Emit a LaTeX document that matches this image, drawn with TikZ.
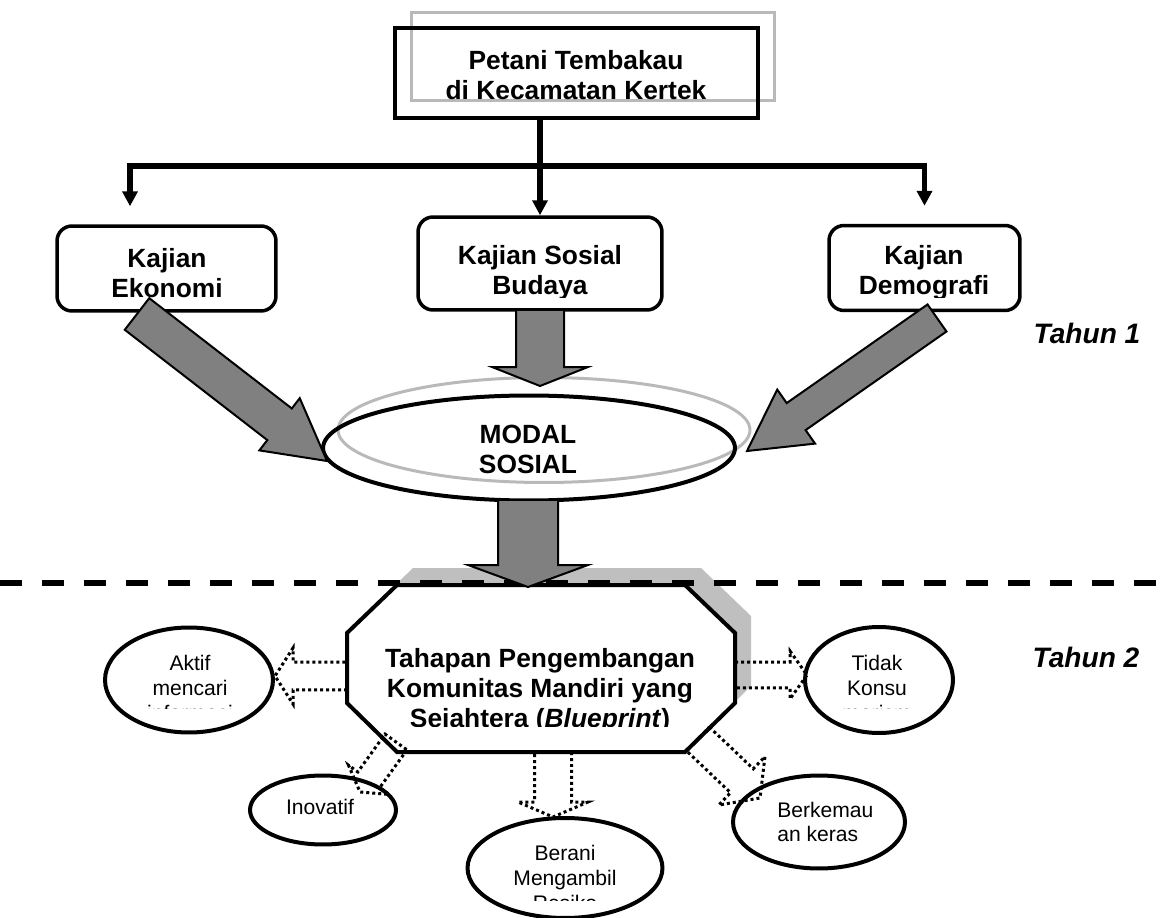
\documentclass[tikz,border=0pt]{standalone}
\usepackage{fontspec}
\setmainfont{Liberation Sans}
\usetikzlibrary{arrows.meta,calc,shapes.geometric}

\newcommand{\blockarrow}[6]{%
  \path (#2) coordinate (ba-s) (#3) coordinate (ba-t);
  \path ($(ba-t)!#6!(ba-s)$) coordinate (ba-b);
  \draw[#1] ($(ba-s)!#4!90:(ba-t)$) -- ($(ba-b)!#4!-90:(ba-s)$)
    -- ($(ba-b)!#5!-90:(ba-s)$) -- (ba-t) -- ($(ba-b)!#5!90:(ba-s)$)
    -- ($(ba-b)!#4!90:(ba-s)$) -- ($(ba-s)!#4!-90:(ba-t)$) -- cycle;}

\begin{document}
\begin{tikzpicture}[x=0.02cm,y=-0.02cm,
  every node/.style={align=center, inner sep=0pt},
  big/.style={font=\fontsize{15}{17}\selectfont\bfseries},
  small/.style={font=\fontsize{12}{14}\selectfont},
  tahun/.style={font=\fontsize{16}{19}\selectfont\bfseries\itshape},
  kajian/.style={draw, line width=0.07cm, rounded corners=0.3cm, minimum height=1.7cm},
  trait/.style={draw, ellipse, line width=0.08cm},
  link/.style={line width=0.11cm, -{Triangle[width=0.3cm,length=0.3cm]}},
  fatarrow/.style={fill=gray, draw=black, line width=0.04cm},
  dotarrow/.style={draw=black, line width=0.06cm, dash pattern=on 0.06cm off 0.06cm},
  ghost/.style={draw=gray!55, line width=0.06cm}]
\useasboundingbox (0,0) rectangle (1166,918);

% petani
\node[ghost, minimum width=7.28cm, minimum height=1.78cm] (farmer-s) at (593,56.5) {};
\node[draw, line width=0.08cm, minimum width=7.26cm, minimum height=1.8cm] (farmer) at (576.5,73) {};
\node[big] (farmer-t) at (576,75) {Petani Tembakau\\di Kecamatan Kertek};

% kajian
\node[kajian, minimum width=4.38cm] (ekonomi) at (166.5,268.5) {};
\node[kajian, minimum width=4.88cm, minimum height=1.86cm] (sosial) at (540,263.5) {};
\node[kajian, minimum width=3.82cm] (demografi) at (924.5,268) {};
\begin{scope}
  \clip (0,0) rectangle (1166,297.8);
  \node[big] (ekonomi-t) at (167,273) {Kajian\\Ekonomi};
  \node[big] (sosial-t) at (540,273) {Kajian Sosial\\Budaya};
  \node[big] (demografi-t) at (924,273) {Kajian\\Demografi};
\end{scope}

\coordinate (branch) at (540,166);
\draw[link] (sosial.north |- farmer.south) -- (sosial.north);
\draw[link, shorten >=0.36cm] (branch) -| ([xshift=-0.73cm]ekonomi.north);
\draw[link, shorten >=0.36cm] (branch) -| (demografi.north);

% modal sosial
\node[trait, draw=gray!55, line width=0.06cm, minimum width=8.24cm, minimum height=2.1cm] (modal-s) at (544,430) {};
\node[trait, minimum width=8.24cm, minimum height=2.1cm] (modal) at (529,448) {};
\node[big] (modal-t) at (528,449) {MODAL\\SOSIAL};

\blockarrow{fatarrow}{137,314}{327,461}{0.4cm}{0.66cm}{1.2cm}
\blockarrow{fatarrow}{540,310}{540,386}{0.48cm}{0.96cm}{0.38cm}
\blockarrow{fatarrow}{937,318}{747,451}{0.33cm}{0.66cm}{1.2cm}

\node[tahun] (tahun1) at (1087,333) {Tahun 1};
\node[tahun] (tahun2) at (1086,657) {Tahun 2};

% tahapan
\fill[gray!50, shift={(16,-17)}] (397,585) -- (685,585) -- (735,633) -- (735,703)
  -- (685,752) -- (397,752) -- (347,703) -- (347,633) -- cycle;
\draw[line width=0.11cm, dash pattern=on 0.44cm off 0.4cm] (0,583) -- (1166,583);
\draw[line width=0.08cm, fill=white] (397,585) -- (685,585) -- (735,633) -- (735,703)
  -- (685,752) -- (397,752) -- (347,703) -- (347,633) -- cycle;
\blockarrow{fatarrow}{528,500}{528,587}{0.6cm}{1.2cm}{0.44cm}
\begin{scope}
  \clip (0,0) rectangle (1166,726);
  \node[big] (tahapan-t) at (540,691) {Tahapan Pengembangan\\Komunitas Mandiri yang\\Sejahtera (\textit{Blueprint})};
\end{scope}

% ciri
\node[trait, minimum width=3.36cm, minimum height=2.1cm] (aktif) at (189,680) {};
\node[trait, minimum width=2.96cm, minimum height=2.12cm] (tidak) at (879,680) {};
\node[trait, minimum width=2.92cm, minimum height=1.38cm] (inovatif) at (323,810) {};
\node[trait, minimum width=3.9cm, minimum height=2cm] (berani) at (565,868) {};
\node[trait, minimum width=3.44cm, minimum height=1.86cm] (berkemauan) at (819,822) {};
\begin{scope}
  \clip (0,0) rectangle (1166,708);
  \node[small] (aktif-t) at (190,688) {Aktif\\mencari\\informasi};
  \node[small] (tidak-t) at (877,688) {Tidak\\Konsu\\merism};
\end{scope}
\begin{scope}
  \clip (0,0) rectangle (1166,900);
  \node[small] (berani-t) at (565,878) {Berani\\Mengambil\\Resiko};
\end{scope}
\node[small] (inovatif-t) at (320,807) {Inovatif};
\node[small, align=left, anchor=west] (berkemauan-t) at (777,822) {Berkemau\\an keras};

\blockarrow{dotarrow}{347,676}{275,676}{0.28cm}{0.56cm}{0.36cm}
\blockarrow{dotarrow}{735,675}{807,675}{0.26cm}{0.48cm}{0.34cm}
\blockarrow{dotarrow}{553,752}{553,817}{0.37cm}{0.7cm}{0.3cm}
\blockarrow{dotarrow}{396,742}{360,792}{0.27cm}{0.5cm}{0.3cm}
\blockarrow{dotarrow}{698,739}{760,798}{0.33cm}{0.67cm}{0.5cm}
\end{tikzpicture}
\end{document}
